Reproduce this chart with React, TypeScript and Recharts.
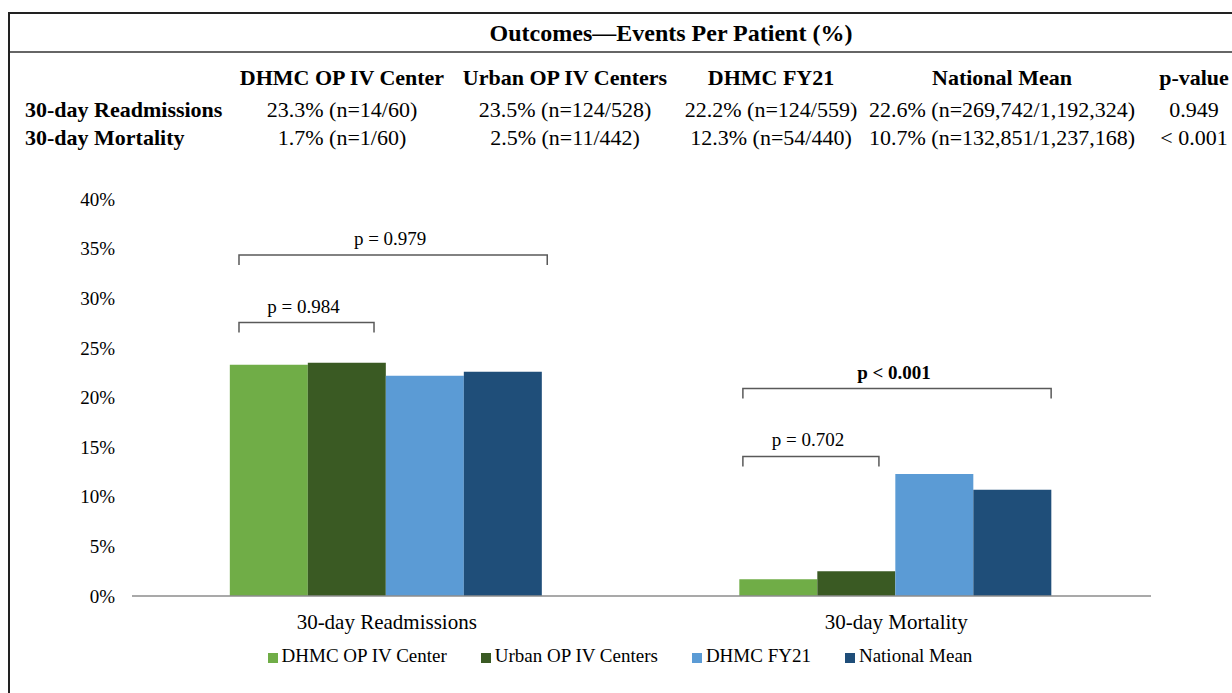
import React from 'react';
import { BarChart, Bar, XAxis, YAxis, Legend, ReferenceLine } from 'recharts';

// ---- Data ----
const categories = ['30-day Readmissions', '30-day Mortality'];
const seriesNames = ['DHMC OP IV Center', 'Urban OP IV Centers', 'DHMC FY21', 'National Mean'];
const dhmcOpIvCenter = [23.3, 1.7];
const urbanOpIvCenters = [23.5, 2.5];
const dhmcFy21 = [22.2, 12.3];
const nationalMean = [22.6, 10.7];
const yTicks = [0, 5, 10, 15, 20, 25, 30, 35, 40];

const tableTitle = 'Outcomes\u2014Events Per Patient (%)';
const tableHeaders = ['DHMC OP IV Center', 'Urban OP IV Centers', 'DHMC FY21', 'National Mean', 'p-value'];
const rowLabels = ['30-day Readmissions', '30-day Mortality'];
const readmissionCells = ['23.3% (n=14/60)', '23.5% (n=124/528)', '22.2% (n=124/559)', '22.6% (n=269,742/1,192,324)', '0.949'];
const mortalityCells = ['1.7% (n=1/60)', '2.5% (n=11/442)', '12.3% (n=54/440)', '10.7% (n=132,851/1,237,168)', '< 0.001'];

// brackets: x in category-band units (0..2 across the two categories), y in percent
const bracketLabels = ['p = 0.984', 'p = 0.979', 'p = 0.702', 'p < 0.001'];
const bracketStart = [0.21, 0.21, 1.199, 1.199];
const bracketEnd = [0.475, 0.815, 1.466, 1.804];
const bracketLevel = [27.55, 34.36, 14.06, 20.9];
const bracketBold = [false, false, false, true];

const colors = ['#70AD47', '#3A5A23', '#5B9BD5', '#1F4E79'];
const keys = ['dhmc', 'urban', 'fy21', 'national'];

const chartData = categories.map((c, i) => ({
  category: c,
  dhmc: dhmcOpIvCenter[i],
  urban: urbanOpIvCenters[i],
  fy21: dhmcFy21[i],
  national: nationalMean[i],
}));

const FONT = "'Liberation Serif', 'Times New Roman', serif";
const colCenters = [342, 565, 771, 1002, 1194];

const Txt: React.FC<{ x: number; y: number; text: string; size: number; bold?: boolean; center?: boolean }> = ({ x, y, text, size, bold, center }) => (
  <div
    style={{
      position: 'absolute',
      left: x,
      top: y - size / 2,
      fontSize: size,
      lineHeight: `${size}px`,
      fontWeight: bold ? 'bold' : 'normal',
      whiteSpace: 'nowrap',
      transform: center ? 'translateX(-50%)' : undefined,
      color: '#000',
    }}
  >
    {text}
  </div>
);

// The segment runs from the centre of category 0 to the centre of category 1,
// so x2 - x1 is the band width given by the library's scale.
const makeBracket = (i: number) => (props: any) => {
  const { x1, y1, x2 } = props;
  const bw = x2 - x1;
  const sx = x1 + (bracketStart[i] - 0.5) * bw;
  const ex = x1 + (bracketEnd[i] - 0.5) * bw;
  return (
    <g>
      <path d={`M${sx},${y1 + 10}V${y1}H${ex}V${y1 + 10}`} fill="none" stroke="#595959" strokeWidth={1.5} />
      <text
        x={(sx + ex) / 2 - 3}
        y={y1 - 10}
        textAnchor="middle"
        fontFamily={FONT}
        fontSize={19}
        fontWeight={bracketBold[i] ? 'bold' : 'normal'}
        fill="#000"
      >
        {bracketLabels[i]}
      </text>
    </g>
  );
};

export default function App() {
  return (
    <div
      style={{
        position: 'absolute',
        left: 0,
        top: 0,
        width: 1232,
        height: 693,
        overflow: 'hidden',
        background: '#fff',
        fontFamily: FONT,
      }}
    >
      {/* table frame */}
      <div style={{ position: 'absolute', left: 8, top: 12, width: 1400, height: 800, borderLeft: '2px solid #222', borderTop: '2px solid #222' }} />
      <div style={{ position: 'absolute', left: 10, top: 51, width: 1300, height: 2, background: '#666' }} />

      <Txt x={671} y={33} text={tableTitle} size={24} bold center />
      {tableHeaders.map((h, i) => (
        <Txt key={h} x={colCenters[i]} y={78} text={h} size={22} bold center />
      ))}
      <Txt x={25} y={110} text={rowLabels[0]} size={22} bold />
      <Txt x={25} y={138} text={rowLabels[1]} size={22} bold />
      {readmissionCells.map((c, i) => (
        <Txt key={'r' + i} x={colCenters[i]} y={110} text={c} size={22} center />
      ))}
      {mortalityCells.map((c, i) => (
        <Txt key={'m' + i} x={colCenters[i]} y={138} text={c} size={22} center />
      ))}

      <div style={{ position: 'absolute', left: 0, top: 160 }}>
        <BarChart
          width={1232}
          height={533}
          data={chartData}
          margin={{ top: 39, right: 81, bottom: 0, left: 0 }}
          barCategoryGap="19.2%"
          barGap={0}
        >
          <XAxis
            xAxisId="cat"
            dataKey="category"
            height={41}
            axisLine={{ stroke: '#8c8c8c', strokeWidth: 1.5 }}
            tickLine={false}
            tickSize={0}
            tickMargin={18}
            tick={{ fontSize: 21, fill: '#000', fontFamily: FONT }}
          />
          <YAxis
            width={132}
            domain={[0, 40]}
            ticks={yTicks}
            tickFormatter={(v: number) => `${v}%`}
            axisLine={false}
            tickLine={false}
            tickSize={0}
            tickMargin={17}
            tick={{ fontSize: 19, fill: '#000', fontFamily: FONT }}
          />
          {keys.map((k, i) => (
            <Bar key={k} xAxisId="cat" dataKey={k} name={seriesNames[i]} fill={colors[i]} isAnimationActive={false} />
          ))}
          {bracketLabels.map((lab, i) => (
            <ReferenceLine
              key={lab}
              xAxisId="cat"
              ifOverflow="visible"
              segment={[
                { x: categories[0], y: bracketLevel[i] },
                { x: categories[1], y: bracketLevel[i] },
              ]}
              shape={makeBracket(i)}
            />
          ))}
          <Legend
            verticalAlign="bottom"
            iconType="square"
            iconSize={10}
            height={56}
            itemSorter={(item: any) => keys.indexOf(item.dataKey)}
            wrapperStyle={{ left: 0, width: 1250, height: 56, paddingTop: 8, boxSizing: 'border-box', fontFamily: FONT, fontSize: 19 }}
            formatter={(value: string) => (
              <span style={{ color: '#000', paddingRight: value === seriesNames[3] ? 0 : 24 }}>{value}</span>
            )}
          />
        </BarChart>
      </div>
    </div>
  );
}
